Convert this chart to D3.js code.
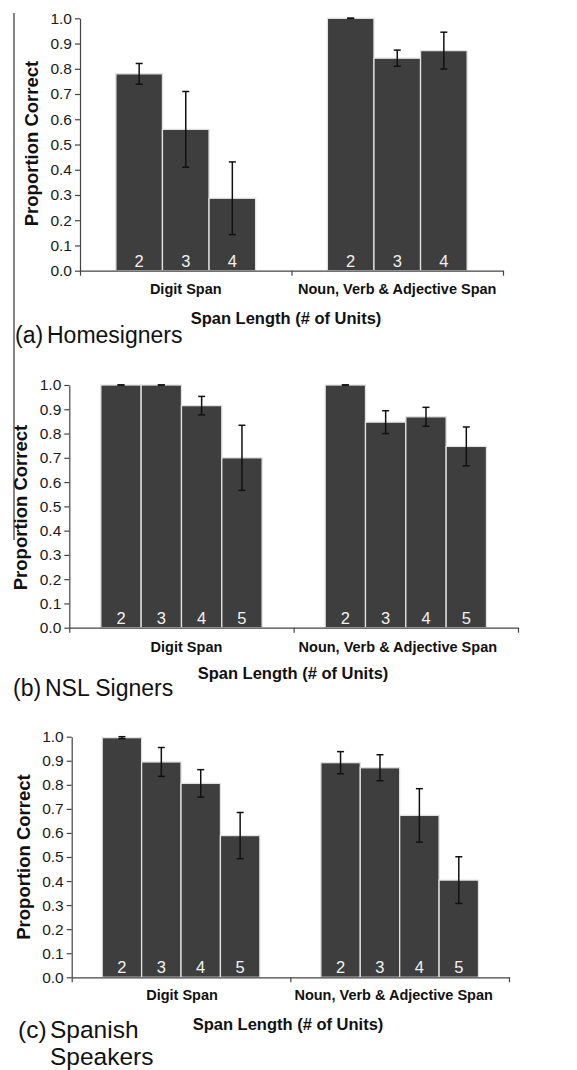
<!DOCTYPE html>
<html><head><meta charset="utf-8">
<script src="https://cdn.jsdelivr.net/npm/d3@7"></script>
<style>
body{margin:0;background:#fff}
svg{display:block}
text{font-family:"Liberation Sans",Arial,Helvetica,sans-serif}
</style>
</head><body><svg id="chart" width="577" height="1070"></svg>
<script>
// ---------- data ----------
const categories = ["Digit Span", "Noun, Verb & Adjective Span"];
const yTicks = [0, 0.1, 0.2, 0.3, 0.4, 0.5, 0.6, 0.7, 0.8, 0.9, 1.0];

const spansA = ["2", "3", "4"];
const homeDigit = [0.78, 0.56, 0.287];
const homeDigitErr = [0.041, 0.15, 0.144];
const homeNoun = [1.0, 0.842, 0.872];
const homeNounErr = [0, 0.032, 0.073];

const spansB = ["2", "3", "4", "5"];
const nslDigit = [1.0, 1.0, 0.915, 0.70];
const nslDigitErr = [0, 0, 0.038, 0.134];
const nslNoun = [1.0, 0.847, 0.869, 0.747];
const nslNounErr = [0, 0.047, 0.039, 0.08];

const spansC = ["2", "3", "4", "5"];
const spanDigit = [0.996, 0.895, 0.806, 0.589];
const spanDigitErr = [0.004, 0.06, 0.057, 0.096];
const spanNoun = [0.892, 0.871, 0.673, 0.404];
const spanNounErr = [0.046, 0.054, 0.111, 0.097];

const panelTags = ["(a)", "(b)", "(c)"];
const panelNames = [["Homesigners"], ["NSL Signers"], ["Spanish", "Speakers"]];
const xTitle = "Span Length (# of Units)";
const yTitle = "Proportion Correct";

// ---------- layout ----------
const layouts = [
  {x0: 80, x1: 503, yt: 18.3, yb: 270.7, po: 0.77, catY: 294, catDx: [0, 0], xtX: 286, xtY: 324, ytX: 31.7, ytY: 143.5,
   tagX: 15, nameX: 47, nameY: [343], nameSize: 23},
  {x0: 69.3, x1: 518, yt: 385, yb: 627.7, po: 0.782, catY: 652, catDx: [5, -8], xtX: 293, xtY: 679, ytX: 20, ytY: 507.5,
   tagX: 13, nameX: 45, nameY: [696], nameSize: 23},
  {x0: 71.7, x1: 509, yt: 736.7, yb: 977.3, po: 0.774, catY: 1000, catDx: [1, -6], xtX: 288, xtY: 1030, ytX: 23, ytY: 857,
   tagX: 18, nameX: 50, nameY: [1038, 1065], nameSize: 24.5}
];

const svg = d3.select("#chart");
svg.append("rect").attr("width", 577).attr("height", 1070).attr("fill", "#fff");

// stray vertical rule at left
svg.append("line").attr("x1", 14).attr("x2", 14).attr("y1", 13).attr("y2", 540)
  .attr("stroke", "#333").attr("stroke-width", 1.2);

function drawPanel(L, spans, series, idx) {
  const g = svg.append("g");
  const y = d3.scaleLinear().domain([0, 1]).range([L.yb, L.yt]);
  const x = d3.scaleBand().domain(categories).range([L.x0, L.x1]).padding(0);
  const xi = d3.scaleBand().domain(spans).range([0, x.bandwidth()]).paddingInner(0).paddingOuter(L.po);

  series.forEach((s, ci) => {
    const gg = g.append("g").attr("transform", `translate(${x(categories[ci])},0)`);
    const rows = s.vals.map((v, i) => ({v, e: s.err[i], k: spans[i]}));
    gg.selectAll("rect").data(rows).join("rect")
      .attr("x", d => xi(d.k)).attr("y", d => y(d.v))
      .attr("width", xi.bandwidth()).attr("height", d => y(0) - y(d.v))
      .attr("fill", "#3e3e3e").attr("stroke", "#e2e2e2").attr("stroke-width", 1.3);
    gg.selectAll("text.num").data(rows).join("text").attr("class", "num")
      .attr("x", d => xi(d.k) + xi.bandwidth() / 2).attr("y", y(0) - 4)
      .attr("text-anchor", "middle").attr("font-size", 16.5).attr("fill", "#f2f2f2")
      .text(d => d.k);
    const eb = gg.selectAll("g.err").data(rows).join("g").attr("class", "err")
      .attr("stroke", "#111").attr("stroke-width", 1.5);
    const cx = d => xi(d.k) + xi.bandwidth() / 2;
    eb.append("line").attr("x1", cx).attr("x2", cx)
      .attr("y1", d => y(d.v + d.e)).attr("y2", d => y(d.v - d.e));
    eb.append("line").attr("x1", d => cx(d) - 3.5).attr("x2", d => cx(d) + 3.5)
      .attr("y1", d => y(d.v + d.e)).attr("y2", d => y(d.v + d.e));
    eb.append("line").attr("x1", d => cx(d) - 3.5).attr("x2", d => cx(d) + 3.5)
      .attr("y1", d => y(d.v - d.e)).attr("y2", d => y(d.v - d.e));
  });

  // y axis
  const ya = g.append("g").attr("transform", `translate(${L.x0},0)`)
    .call(d3.axisLeft(y).tickValues(yTicks).tickFormat(d3.format(".1f")).tickSize(5).tickSizeOuter(0).tickPadding(3));
  ya.selectAll("path,line").attr("stroke", "#444").attr("stroke-width", 1.2);
  ya.selectAll("text").attr("font-size", 15.5).attr("fill", "#1a1a1a").attr("font-family", "Liberation Sans, Arial, sans-serif");

  // x axis
  const xl = d3.scaleLinear().domain([0, categories.length]).range([L.x0, L.x1]);
  const xa = g.append("g").attr("transform", `translate(0,${L.yb})`)
    .call(d3.axisBottom(xl).tickValues(d3.range(categories.length + 1)).tickFormat("").tickSize(5).tickSizeOuter(0));
  xa.selectAll("path,line").attr("stroke", "#444").attr("stroke-width", 1.2);

  // category labels
  g.selectAll("text.cat").data(categories).join("text").attr("class", "cat")
    .attr("x", (d, i) => x(d) + x.bandwidth() / 2 + L.catDx[i]).attr("y", L.catY)
    .attr("text-anchor", "middle").attr("font-size", 14.5).attr("font-weight", "bold").attr("fill", "#111")
    .text(d => d);

  // axis titles
  g.append("text").attr("x", L.xtX).attr("y", L.xtY).attr("text-anchor", "middle")
    .attr("font-size", 16.5).attr("font-weight", "bold").attr("fill", "#111").text(xTitle);
  g.append("text").attr("transform", `translate(${L.ytX},${L.ytY}) rotate(-90)`)
    .attr("text-anchor", "middle").attr("dominant-baseline", "central")
    .attr("font-size", 18.5).attr("font-weight", "bold").attr("fill", "#111").text(yTitle);

  // panel label
  g.append("text").attr("x", L.tagX).attr("y", L.nameY[0]).attr("font-size", L.nameSize).attr("fill", "#111").text(panelTags[idx]);
  panelNames[idx].forEach((t, j) => {
    g.append("text").attr("x", L.nameX).attr("y", L.nameY[j]).attr("font-size", L.nameSize).attr("fill", "#111").text(t);
  });
}

drawPanel(layouts[0], spansA, [{vals: homeDigit, err: homeDigitErr}, {vals: homeNoun, err: homeNounErr}], 0);
drawPanel(layouts[1], spansB, [{vals: nslDigit, err: nslDigitErr}, {vals: nslNoun, err: nslNounErr}], 1);
drawPanel(layouts[2], spansC, [{vals: spanDigit, err: spanDigitErr}, {vals: spanNoun, err: spanNounErr}], 2);
</script>
</body></html>
